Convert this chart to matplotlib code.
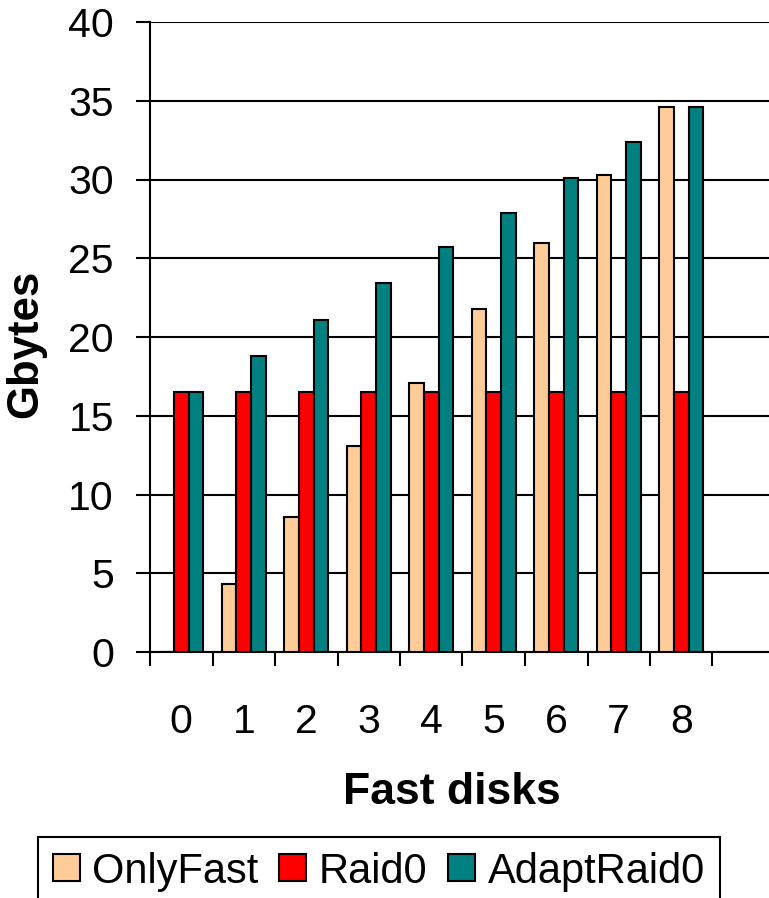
import numpy as np
import matplotlib
matplotlib.use("Agg")
import matplotlib.pyplot as plt

plt.rcParams['font.family'] = ['Liberation Sans', 'DejaVu Sans']

# values (Gbytes)
disks = [0, 1, 2, 3, 4, 5, 6, 7, 8]
only_fast = [0.0, 4.3, 8.6, 13.1, 17.1, 21.8, 26.0, 30.3, 34.6]
raid0 = [16.5, 16.5, 16.5, 16.5, 16.5, 16.5, 16.5, 16.5, 16.5]
adapt_raid0 = [16.5, 18.8, 21.1, 23.4, 25.7, 27.9, 30.1, 32.4, 34.6]

series = [
    ("OnlyFast", only_fast, "#FFCC99"),
    ("Raid0", raid0, "#FF0000"),
    ("AdaptRaid0", adapt_raid0, "#008080"),
]

fig = plt.figure(figsize=(7.69, 8.98), dpi=100)
ax = fig.add_axes([150 / 769, 1 - 652 / 898, 625 / 769, 630 / 898])

x = np.arange(len(disks))
w = 0.233
for i, (name, vals, col) in enumerate(series):
    ax.bar(x + (i - 1) * w, vals, w, color=col, edgecolor="black",
           linewidth=1.5, label=name, zorder=3)

ax.set_xlim(-0.5, 9.5)
ax.set_ylim(0, 40)
ax.set_yticks(np.arange(0, 41, 5))
ax.yaxis.grid(True, color="black", linewidth=1.5)
ax.set_axisbelow(True)

for s in ["top", "right"]:
    ax.spines[s].set_visible(False)
for s in ["left", "bottom"]:
    ax.spines[s].set_linewidth(1.5)

ax.set_xticks(x)
ax.set_xticklabels([str(d) for d in disks])
ax.set_xticks(np.arange(-0.5, 10, 1), minor=True)
ax.tick_params(axis="x", which="major", length=0, pad=37, labelsize=29.5)
ax.tick_params(axis="x", which="minor", length=10, width=1.5, direction="out")
ax.tick_params(axis="y", length=10, width=1.5, direction="out", pad=16,
               labelsize=29.5)

ax.set_xlabel("Fast disks", fontsize=32, fontweight="bold")
ax.xaxis.set_label_coords(0.483, -0.19)
ax.set_ylabel("Gbytes", fontsize=31.5, fontweight="bold")
ax.yaxis.set_label_coords(-0.166, 0.489)

leg = fig.legend(loc="upper left", bbox_to_anchor=(38 / 769, 1 - 837 / 898),
                 ncol=3, fontsize=30, fancybox=False, framealpha=1,
                 edgecolor="black", handlelength=0.65, handleheight=0.62,
                 handletextpad=0.3, columnspacing=0.5, borderpad=0.35,
                 borderaxespad=0)
leg.get_frame().set_linewidth(1.5)

fig.savefig("out.png", dpi=100)
